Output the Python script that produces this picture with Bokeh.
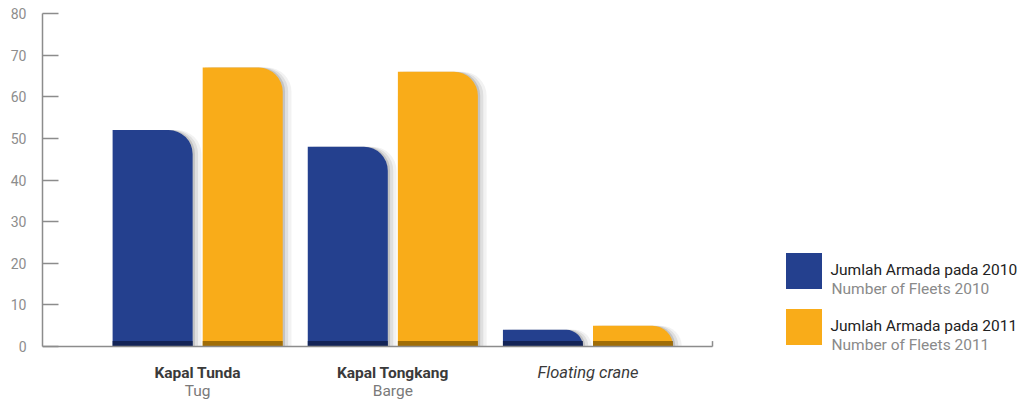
from bokeh.plotting import figure
from bokeh.models import ColumnDataSource, FixedTicker, Range1d, Label, Legend, LegendItem
from bokeh.transform import dodge
from bokeh.embed import file_html
from bokeh.resources import INLINE

# ---- data ----
categories = ["Kapal Tunda", "Kapal Tongkang", "Floating crane"]
categories_en = ["Tug", "Barge", ""]
fleets_2010 = [52, 48, 4]
fleets_2011 = [67, 66, 5]
y_ticks = [0, 10, 20, 30, 40, 50, 60, 70, 80]
series_main = ["Jumlah Armada pada 2010", "Jumlah Armada pada 2011"]
series_en = ["Number of Fleets 2010", "Number of Fleets 2011"]

BLUE = "#24408e"
ORANGE = "#f9ac19"
FONT = "Roboto"
AXIS_GREY = "#8c8c8c"

positions = list(range(len(categories)))
src = ColumnDataSource(dict(x=positions, v2010=fleets_2010, v2011=fleets_2011))

X_START, X_AXIS_END, X_END = -0.795, 2.638, 4.252
Y_MIN, Y_MAX = 0, 80
x_range = Range1d(X_START, X_END)
y_range = Range1d(-13.69, Y_MAX)
p = figure(width=1027, height=403, x_range=x_range, y_range=y_range,
           output_backend="svg", toolbar_location=None,
           min_border_left=42, min_border_right=0, min_border_top=13, min_border_bottom=0)
p.outline_line_color = None
p.grid.visible = False
p.xaxis.visible = False
p.background_fill_color = "white"

off = 0.2308
w = 0.41
RAD = (0, 24, 0, 0)

# soft shadows
for k, a in [(0.012, 0.12), (0.028, 0.08), (0.045, 0.05)]:
    p.vbar(x=dodge("x", -off + k, range=x_range), top="v2010", width=w, bottom=0, source=src,
           fill_color="#000000", fill_alpha=a, line_color=None, border_radius=RAD)
    p.vbar(x=dodge("x", off + k, range=x_range), top="v2011", width=w, bottom=0, source=src,
           fill_color="#000000", fill_alpha=a, line_color=None, border_radius=RAD)

r1 = p.vbar(x=dodge("x", -off, range=x_range), top="v2010", width=w, bottom=0, source=src,
            fill_color=BLUE, line_color=None, border_radius=RAD)
r2 = p.vbar(x=dodge("x", off, range=x_range), top="v2011", width=w, bottom=0, source=src,
            fill_color=ORANGE, line_color=None, border_radius=RAD)
# darker base band
p.vbar(x=dodge("x", -off, range=x_range), top=1.3, width=w, bottom=0, source=src,
       fill_color="#0f1d4a", fill_alpha=0.8, line_color=None)
p.vbar(x=dodge("x", off, range=x_range), top=1.3, width=w, bottom=0, source=src,
       fill_color="#7a5200", fill_alpha=0.7, line_color=None)

# baseline (category axis) with end tick
p.segment(x0=[X_START], y0=[Y_MIN], x1=[X_AXIS_END], y1=[Y_MIN], line_color=AXIS_GREY, line_width=1.5)
p.segment(x0=[X_AXIS_END], y0=[Y_MIN], x1=[X_AXIS_END], y1=[1.3], line_color=AXIS_GREY, line_width=1.5)

# y axis
ya = p.yaxis[0]
ya.bounds = (Y_MIN, Y_MAX)
ya.ticker = FixedTicker(ticks=y_ticks)
ya.axis_line_color = AXIS_GREY
ya.axis_line_width = 1.5
ya.major_tick_line_color = AXIS_GREY
ya.major_tick_line_width = 1.5
ya.major_tick_in = 16
ya.major_tick_out = 0
ya.minor_tick_line_color = None
ya.major_label_standoff = 16
ya.major_label_text_font = FONT
ya.major_label_text_font_size = "14px"
ya.major_label_text_color = "#8d8d8d"

# category labels
for i, (c, e) in enumerate(zip(categories, categories_en)):
    italic = (e == "")
    p.add_layout(Label(x=positions[i], y=31, x_units="data", y_units="screen", text=c,
                       text_align="center", text_baseline="alphabetic", text_font=FONT,
                       text_font_size="16.5px" if italic else "15.5px", text_color="#3a3a3a",
                       text_font_style="italic" if italic else "bold"))
    if e:
        p.add_layout(Label(x=positions[i], y=13, x_units="data", y_units="screen", text=e,
                           text_align="center", text_baseline="alphabetic", text_font=FONT,
                           text_font_size="15.5px", text_color="#7a7a7a"))

# legend
legend = Legend(items=[LegendItem(label=series_main[0], renderers=[r1]),
                       LegendItem(label=series_main[1], renderers=[r2])],
                location=(738.5, 54.5), orientation="vertical",
                glyph_width=45, glyph_height=45, label_height=31, spacing=11,
                label_standoff=5, padding=0, margin=0,
                border_line_color=None, background_fill_alpha=0,
                label_text_font=FONT, label_text_font_size="15.5px",
                label_text_color="#222222", label_text_baseline="middle")
p.add_layout(legend)

for j, t in enumerate(series_en):
    p.add_layout(Label(x=789, y=115 - 56 * j, x_units="screen", y_units="screen", text=t,
                       text_align="left", text_baseline="alphabetic", text_font=FONT,
                       text_font_size="15.5px", text_color="#8a8a8a"))

open("out.html", "w").write(file_html(p, INLINE))
